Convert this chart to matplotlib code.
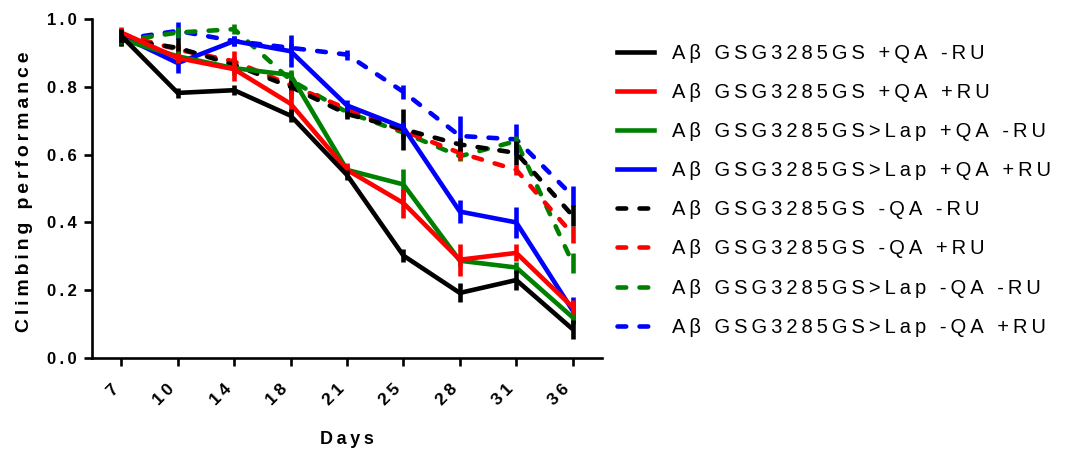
import matplotlib
matplotlib.use("Agg")
import matplotlib.pyplot as plt
from matplotlib.lines import Line2D
import numpy as np

plt.rcParams["font.family"] = ["Liberation Sans", "DejaVu Sans"]

days = ["7", "10", "14", "18", "21", "25", "28", "31", "36"]

labels = [
    "Aβ GSG3285GS +QA -RU",
    "Aβ GSG3285GS +QA +RU",
    "Aβ GSG3285GS>Lap +QA -RU",
    "Aβ GSG3285GS>Lap +QA +RU",
    "Aβ GSG3285GS -QA -RU",
    "Aβ GSG3285GS -QA +RU",
    "Aβ GSG3285GS>Lap -QA -RU",
    "Aβ GSG3285GS>Lap -QA +RU",
]
colors = ["black", "red", "green", "blue", "black", "red", "green", "blue"]
dashed = [False, False, False, False, True, True, True, True]

# mean climbing index per group and day
means = [
    [0.950, 0.782, 0.790, 0.715, 0.540, 0.302, 0.192, 0.230, 0.085],
    [0.960, 0.885, 0.852, 0.750, 0.555, 0.457, 0.290, 0.310, 0.150],
    [0.940, 0.890, 0.855, 0.835, 0.555, 0.512, 0.287, 0.267, 0.120],
    [0.950, 0.870, 0.935, 0.905, 0.745, 0.680, 0.432, 0.400, 0.140],
    [0.940, 0.915, 0.865, 0.800, 0.720, 0.675, 0.630, 0.605, 0.420],
    [0.955, 0.910, 0.875, 0.805, 0.735, 0.670, 0.605, 0.555, 0.365],
    [0.935, 0.960, 0.970, 0.820, 0.725, 0.665, 0.595, 0.640, 0.280],
    [0.940, 0.965, 0.935, 0.915, 0.895, 0.785, 0.655, 0.645, 0.478],
]
# SEM
errors = [
    [0.020, 0.015, 0.015, 0.020, 0.015, 0.020, 0.028, 0.030, 0.028],
    [0.015, 0.015, 0.035, 0.040, 0.020, 0.043, 0.047, 0.025, 0.020],
    [0.015, 0.015, 0.020, 0.015, 0.015, 0.045, 0.015, 0.015, 0.015],
    [0.020, 0.030, 0.015, 0.047, 0.015, 0.015, 0.035, 0.045, 0.040],
    [0.020, 0.030, 0.015, 0.020, 0.015, 0.060, 0.020, 0.035, 0.030],
    [0.015, 0.015, 0.030, 0.040, 0.015, 0.020, 0.020, 0.015, 0.025],
    [0.015, 0.015, 0.015, 0.015, 0.015, 0.020, 0.015, 0.015, 0.030],
    [0.015, 0.025, 0.015, 0.015, 0.015, 0.020, 0.060, 0.045, 0.030],
]


def spaced(s):
    return "\u2009".join(s)


LW = 3.3
DASH = (1.9, 2.9)

fig = plt.figure(figsize=(10.67, 4.58), dpi=100)
ax = fig.add_axes([0.0862, 0.2183, 0.478, 0.7402])

x = np.arange(len(days))
n = len(means)
for i in range(n):
    z = 10 + (n - i) * 2
    ls = (0, DASH) if dashed[i] else "-"
    ax.plot(x, means[i], color=colors[i], lw=LW, ls=ls,
            dash_capstyle="round", solid_capstyle="butt", zorder=z)
    ax.errorbar(x, means[i], yerr=errors[i], fmt="none", ecolor=colors[i],
                elinewidth=LW, capsize=0, zorder=z + 1)

ax.set_xlim(-0.52, 8.52)
ax.set_ylim(0, 1.0)
ax.set_yticks(np.arange(0, 1.01, 0.2))
ax.set_yticklabels([spaced(f"{v:.1f}") for v in np.arange(0, 1.01, 0.2)],
                   fontsize=12, fontweight="bold")
ax.set_xticks(x)
ax.set_xticklabels([spaced(d) for d in days], rotation=45, ha="right",
                   fontsize=12.5, fontweight="bold")

for side in ("top", "right"):
    ax.spines[side].set_visible(False)
for side in ("left", "bottom"):
    ax.spines[side].set_linewidth(1.9)
ax.tick_params(axis="both", length=6, width=1.9, direction="out")
ax.tick_params(axis="y", pad=5)
ax.tick_params(axis="x", pad=11)

ax.set_ylabel(spaced("Climbing performance"), fontsize=14, fontweight="bold")
ax.yaxis.set_label_coords(-0.116, 0.49)
ax.set_xlabel(spaced("Days"), fontsize=13, fontweight="bold")
ax.xaxis.set_label_coords(0.5, -0.215)

handles = [
    Line2D([], [], color=colors[i], lw=LW,
           ls=(0, DASH) if dashed[i] else "-", dash_capstyle="round")
    for i in range(n)
]
fig.legend(handles, [spaced(l) for l in labels], loc="upper left",
           bbox_to_anchor=(0.561, 0.944), frameon=False, fontsize=14.5,
           handlelength=1.85, handletextpad=0.92, labelspacing=1.0)

fig.savefig("out.png", dpi=100)
